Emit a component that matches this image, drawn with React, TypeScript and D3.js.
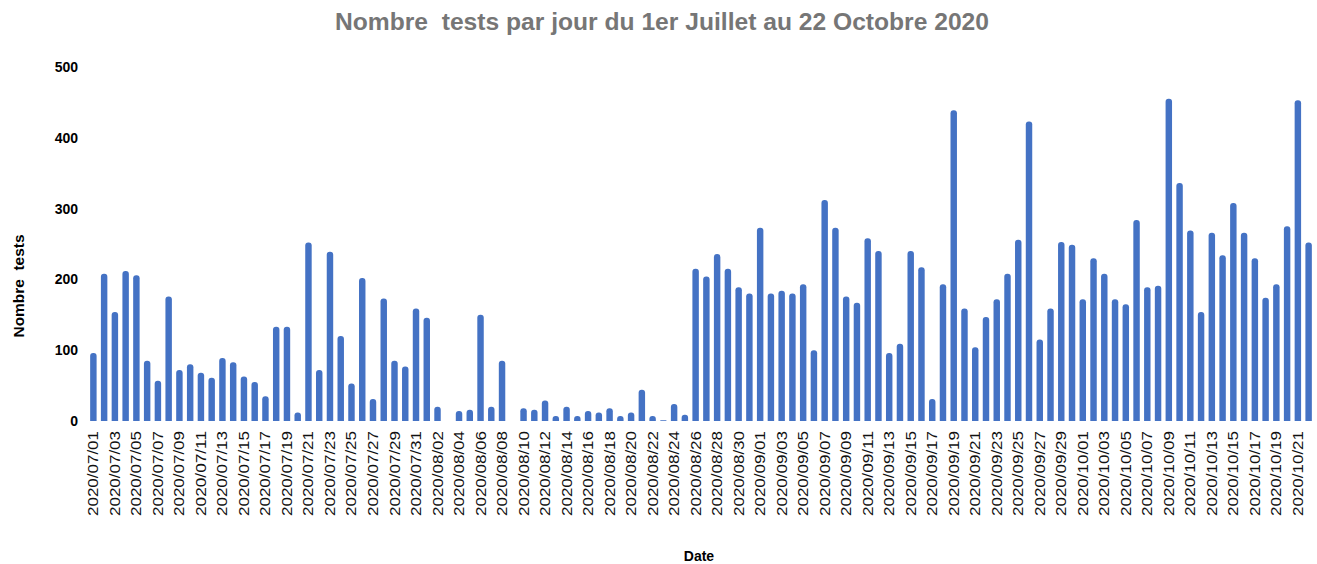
import React from 'react';
import * as d3 from 'd3';

// one value per day, 2020/07/01 -> 2020/10/22
const julyValues = [
  96, 208, 154, 212, 206, 85, 57, 176, 72, 80, 68, 61, 89, 83, 63, 55, 35, 133, 133, 12,
  252, 72, 239, 120, 53, 202, 31, 173, 85, 77, 159,
];
const augustValues = [
  146, 20, 0, 14, 16, 150, 20, 85, 0, 18, 16, 29, 7, 20, 7, 14, 12, 18, 7, 12,
  44, 7, 1, 24, 9, 215, 204, 236, 215, 189, 180,
];
const septemberValues = [
  273, 180, 184, 180, 193, 100, 312, 273, 176, 167, 258, 240, 96, 109, 240, 217, 31, 193, 439, 159,
  104, 147, 172, 208, 256, 423, 115, 159, 253, 249,
];
const octoberValues = [
  172, 230, 208, 172, 165, 284, 189, 191, 455, 336, 269, 154, 266, 234, 308, 266, 230, 174, 193, 275,
  453, 252,
];
const yTicks = [0, 100, 200, 300, 400, 500];

const monthStarts = [
  { month: '07', values: julyValues },
  { month: '08', values: augustValues },
  { month: '09', values: septemberValues },
  { month: '10', values: octoberValues },
];

const data = monthStarts.flatMap(m =>
  m.values.map((v, i) => ({ date: `2020/${m.month}/${String(i + 1).padStart(2, '0')}`, value: v }))
);

const width = 1317;
const height = 564;
const margin = { top: 67, right: 3, bottom: 143, left: 88 };

export default function App() {
  const x = d3.scaleBand<string>()
    .domain(data.map(d => d.date))
    .range([margin.left, width - margin.right])
    .paddingInner(0.4)
    .paddingOuter(0.2);

  const y = d3.scaleLinear()
    .domain([0, 500])
    .range([height - margin.bottom, margin.top]);

  const bw = x.bandwidth();
  const r = Math.min(3, bw / 2);

  // bar with rounded top corners
  const barPath = (d: { date: string; value: number }) => {
    const x0 = x(d.date)!;
    const y0 = y(d.value);
    const y1 = y(0);
    const h = y1 - y0;
    if (h <= 0) return '';
    const rr = Math.min(r, h);
    return `M${x0},${y1}V${y0 + rr}Q${x0},${y0} ${x0 + rr},${y0}H${x0 + bw - rr}Q${x0 + bw},${y0} ${x0 + bw},${y0 + rr}V${y1}Z`;
  };

  const font = '"Liberation Sans", Arial, sans-serif';

  return (
    <svg width={width} height={height} style={{ display: 'block', position: 'absolute', left: 0, top: 0, background: '#fff' }}>
      <text
        x={662}
        y={30}
        textAnchor="middle"
        fontFamily={font}
        fontWeight="bold"
        fontSize={23}
        fill="#767676"
        textLength={654}
        lengthAdjust="spacingAndGlyphs"
        style={{ whiteSpace: 'pre' }}
      >
        {'Nombre  tests par jour du 1er Juillet au 22 Octobre 2020'}
      </text>

      {yTicks.map(t => (
        <text key={t} x={78} y={y(t) + 5} textAnchor="end" fontFamily={font} fontWeight="bold" fontSize={14} fill="#000">
          {t}
        </text>
      ))}

      <g fill="#4472C4">
        {data.map(d => (
          <path key={d.date} d={barPath(d)} />
        ))}
      </g>

      {data.map((d, i) => i % 2 === 0 ? (
        <text
          key={d.date}
          transform={`translate(${x(d.date)! + bw / 2 + 5},${y(0) + 10}) rotate(-90)`}
          textAnchor="end"
          fontFamily={font}
          fontSize={14}
          fill="#111"
          textLength={85}
          lengthAdjust="spacingAndGlyphs"
        >
          {d.date}
        </text>
      ) : null)}

      <text
        transform={`translate(24,286) rotate(-90)`}
        textAnchor="middle"
        fontFamily={font}
        fontWeight="bold"
        fontSize={14}
        fill="#000"
        textLength={103}
        lengthAdjust="spacingAndGlyphs"
        style={{ whiteSpace: 'pre' }}
      >
        {'Nombre  tests'}
      </text>
      <text x={699} y={561} textAnchor="middle" fontFamily={font} fontWeight="bold" fontSize={14} fill="#000">
        Date
      </text>
    </svg>
  );
}
